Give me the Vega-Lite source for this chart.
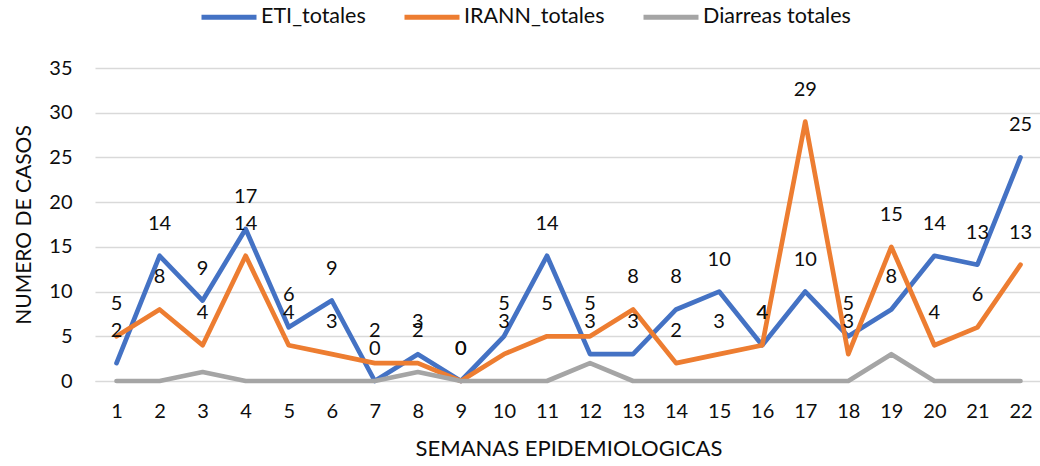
{
  "$schema": "https://vega.github.io/schema/vega-lite/v6.json",
  "width": 947,
  "height": 313,
  "autosize": {"type": "none"},
  "padding": {"left": 95, "top": 68, "right": 0, "bottom": 85},
  "background": "white",
  "config": {
    "view": {"stroke": null},
    "font": "Lato",
    "axis": {"labelFont": "Lato", "titleFont": "Lato", "labelColor": "#0d0d0d", "titleColor": "#0d0d0d", "titleFontWeight": "normal"},
    "legend": {"labelFont": "Lato"}
  },
  "data": {
    "values": [
      {"semana": 1, "serie": "ETI_totales", "casos": 2},
      {"semana": 2, "serie": "ETI_totales", "casos": 14},
      {"semana": 3, "serie": "ETI_totales", "casos": 9},
      {"semana": 4, "serie": "ETI_totales", "casos": 17},
      {"semana": 5, "serie": "ETI_totales", "casos": 6},
      {"semana": 6, "serie": "ETI_totales", "casos": 9},
      {"semana": 7, "serie": "ETI_totales", "casos": 0},
      {"semana": 8, "serie": "ETI_totales", "casos": 3},
      {"semana": 9, "serie": "ETI_totales", "casos": 0},
      {"semana": 10, "serie": "ETI_totales", "casos": 5},
      {"semana": 11, "serie": "ETI_totales", "casos": 14},
      {"semana": 12, "serie": "ETI_totales", "casos": 3},
      {"semana": 13, "serie": "ETI_totales", "casos": 3},
      {"semana": 14, "serie": "ETI_totales", "casos": 8},
      {"semana": 15, "serie": "ETI_totales", "casos": 10},
      {"semana": 16, "serie": "ETI_totales", "casos": 4},
      {"semana": 17, "serie": "ETI_totales", "casos": 10},
      {"semana": 18, "serie": "ETI_totales", "casos": 5},
      {"semana": 19, "serie": "ETI_totales", "casos": 8},
      {"semana": 20, "serie": "ETI_totales", "casos": 14},
      {"semana": 21, "serie": "ETI_totales", "casos": 13},
      {"semana": 22, "serie": "ETI_totales", "casos": 25},
      {"semana": 1, "serie": "IRANN_totales", "casos": 5},
      {"semana": 2, "serie": "IRANN_totales", "casos": 8},
      {"semana": 3, "serie": "IRANN_totales", "casos": 4},
      {"semana": 4, "serie": "IRANN_totales", "casos": 14},
      {"semana": 5, "serie": "IRANN_totales", "casos": 4},
      {"semana": 6, "serie": "IRANN_totales", "casos": 3},
      {"semana": 7, "serie": "IRANN_totales", "casos": 2},
      {"semana": 8, "serie": "IRANN_totales", "casos": 2},
      {"semana": 9, "serie": "IRANN_totales", "casos": 0},
      {"semana": 10, "serie": "IRANN_totales", "casos": 3},
      {"semana": 11, "serie": "IRANN_totales", "casos": 5},
      {"semana": 12, "serie": "IRANN_totales", "casos": 5},
      {"semana": 13, "serie": "IRANN_totales", "casos": 8},
      {"semana": 14, "serie": "IRANN_totales", "casos": 2},
      {"semana": 15, "serie": "IRANN_totales", "casos": 3},
      {"semana": 16, "serie": "IRANN_totales", "casos": 4},
      {"semana": 17, "serie": "IRANN_totales", "casos": 29},
      {"semana": 18, "serie": "IRANN_totales", "casos": 3},
      {"semana": 19, "serie": "IRANN_totales", "casos": 15},
      {"semana": 20, "serie": "IRANN_totales", "casos": 4},
      {"semana": 21, "serie": "IRANN_totales", "casos": 6},
      {"semana": 22, "serie": "IRANN_totales", "casos": 13},
      {"semana": 1, "serie": "Diarreas totales", "casos": 0},
      {"semana": 2, "serie": "Diarreas totales", "casos": 0},
      {"semana": 3, "serie": "Diarreas totales", "casos": 1},
      {"semana": 4, "serie": "Diarreas totales", "casos": 0},
      {"semana": 5, "serie": "Diarreas totales", "casos": 0},
      {"semana": 6, "serie": "Diarreas totales", "casos": 0},
      {"semana": 7, "serie": "Diarreas totales", "casos": 0},
      {"semana": 8, "serie": "Diarreas totales", "casos": 1},
      {"semana": 9, "serie": "Diarreas totales", "casos": 0},
      {"semana": 10, "serie": "Diarreas totales", "casos": 0},
      {"semana": 11, "serie": "Diarreas totales", "casos": 0},
      {"semana": 12, "serie": "Diarreas totales", "casos": 2},
      {"semana": 13, "serie": "Diarreas totales", "casos": 0},
      {"semana": 14, "serie": "Diarreas totales", "casos": 0},
      {"semana": 15, "serie": "Diarreas totales", "casos": 0},
      {"semana": 16, "serie": "Diarreas totales", "casos": 0},
      {"semana": 17, "serie": "Diarreas totales", "casos": 0},
      {"semana": 18, "serie": "Diarreas totales", "casos": 0},
      {"semana": 19, "serie": "Diarreas totales", "casos": 3},
      {"semana": 20, "serie": "Diarreas totales", "casos": 0},
      {"semana": 21, "serie": "Diarreas totales", "casos": 0},
      {"semana": 22, "serie": "Diarreas totales", "casos": 0}
    ]
  },
  "encoding": {
    "x": {
      "field": "semana",
      "type": "ordinal",
      "scale": {"type": "point", "padding": 0.5},
      "axis": {
        "title": "SEMANAS EPIDEMIOLOGICAS",
        "titleFontSize": 22,
        "titlePadding": 17,
        "labelFontSize": 20,
        "labelAngle": 0,
        "labelPadding": 20,
        "ticks": false,
        "domain": true,
        "domainColor": "#d9d9d9",
        "domainWidth": 1,
        "grid": false
      }
    },
    "y": {
      "field": "casos",
      "type": "quantitative",
      "scale": {"domain": [0, 35], "nice": false},
      "axis": {
        "title": "NUMERO DE CASOS",
        "titleFontSize": 21,
        "titlePadding": 14,
        "labelFontSize": 20,
        "labelPadding": 23,
        "values": [0, 5, 10, 15, 20, 25, 30, 35],
        "ticks": false,
        "domain": false,
        "grid": true,
        "gridColor": "#d9d9d9",
        "gridWidth": 1.3
      }
    }
  },
  "layer": [
    {
      "mark": {"type": "line", "strokeWidth": 4.7, "strokeJoin": "round", "strokeCap": "round"},
      "encoding": {
        "color": {
          "field": "serie",
          "type": "nominal",
          "sort": ["ETI_totales", "IRANN_totales", "Diarreas totales"],
          "scale": {"domain": ["ETI_totales", "IRANN_totales", "Diarreas totales"], "range": ["#4472c4", "#ed7d31", "#a5a5a5"]},
          "legend": {
            "title": null,
            "orient": "none",
            "direction": "horizontal",
            "legendX": 104,
            "legendY": -81,
            "padding": 0,
            "symbolType": "stroke",
            "symbolSize": 3025,
            "symbolStrokeWidth": 5,
            "labelFontSize": 21.5,
            "labelColor": "#0d0d0d",
            "labelOffset": 2,
            "columnPadding": 28,
            "labelLimit": 300
          }
        }
      }
    },
    {
      "transform": [{"filter": "datum.serie != 'Diarreas totales'"}],
      "mark": {"type": "text", "dy": -32, "fontSize": 20, "color": "#0d0d0d", "baseline": "middle", "font": "Lato"},
      "encoding": {
        "text": {"field": "casos", "type": "quantitative"}
      }
    }
  ]
}
